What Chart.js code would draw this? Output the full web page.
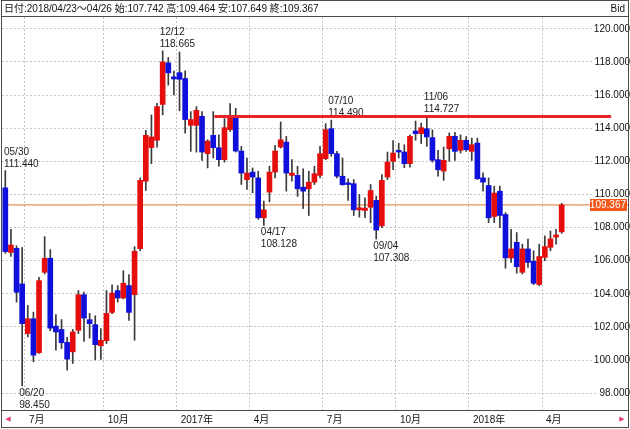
<!DOCTYPE html>
<html>
<head>
<meta charset="utf-8">
<script src="https://cdn.jsdelivr.net/npm/chart.js@4.4.1/dist/chart.umd.min.js"></script>
<style>
  html, body { margin: 0; padding: 0; background: #fff; }
  #wrap { width: 630px; height: 429px; }
</style>
</head>
<body>
<div id="wrap"><canvas id="myChart" width="630" height="429"></canvas></div>
<script>
// weekly candles, USD/JPY bid
const weeks = [
  "2016/05/30","2016/06/06","2016/06/13","2016/06/20","2016/06/27","2016/07/04","2016/07/11","2016/07/18","2016/07/25","2016/08/01",
  "2016/08/08","2016/08/15","2016/08/22","2016/08/29","2016/09/05","2016/09/12","2016/09/19","2016/09/26","2016/10/03","2016/10/10",
  "2016/10/17","2016/10/24","2016/10/31","2016/11/07","2016/11/14","2016/11/21","2016/11/28","2016/12/05","2016/12/12","2016/12/19",
  "2016/12/26","2017/01/02","2017/01/09","2017/01/16","2017/01/23","2017/01/30","2017/02/06","2017/02/13","2017/02/20","2017/02/27",
  "2017/03/06","2017/03/13","2017/03/20","2017/03/27","2017/04/03","2017/04/10","2017/04/17","2017/04/24","2017/05/01","2017/05/08",
  "2017/05/15","2017/05/22","2017/05/29","2017/06/05","2017/06/12","2017/06/19","2017/06/26","2017/07/03","2017/07/10","2017/07/17",
  "2017/07/24","2017/07/31","2017/08/07","2017/08/14","2017/08/21","2017/08/28","2017/09/04","2017/09/11","2017/09/18","2017/09/25",
  "2017/10/02","2017/10/09","2017/10/16","2017/10/23","2017/10/30","2017/11/06","2017/11/13","2017/11/20","2017/11/27","2017/12/04",
  "2017/12/11","2017/12/18","2017/12/25","2018/01/01","2018/01/08","2018/01/15","2018/01/22","2018/01/29","2018/02/05","2018/02/12",
  "2018/02/19","2018/02/26","2018/03/05","2018/03/12","2018/03/19","2018/03/26","2018/04/02","2018/04/09","2018/04/16","2018/04/23"
];
const open = [
  110.40,106.50,106.75,104.60,101.60,102.50,100.45,105.30,106.15,102.05,
  101.85,101.07,100.50,101.80,103.95,102.44,102.14,100.87,101.17,102.88,
  104.20,103.75,104.50,103.95,106.73,110.80,112.83,113.27,115.43,117.94,
  117.10,117.35,117.00,114.17,114.17,114.72,112.46,113.57,112.82,112.10,
  113.91,114.62,112.62,110.89,111.35,111.00,108.59,110.14,111.35,112.86,
  113.16,111.15,111.15,110.44,110.34,110.74,111.15,112.16,113.97,112.46,
  111.10,110.70,110.65,109.07,109.03,109.23,109.64,108.10,111.05,112.00,
  112.66,112.56,111.86,113.83,113.67,113.97,113.43,112.10,111.41,112.76,
  113.51,112.66,113.27,112.60,113.10,111.00,110.54,108.67,110.20,108.79,
  106.17,107.11,105.30,106.71,105.97,104.56,106.20,106.81,107.42,107.742
];
const high = [
  111.44,107.90,106.90,106.80,103.30,102.90,105.00,107.45,106.67,102.75,
  102.45,101.37,101.85,104.20,104.10,102.82,102.68,101.90,104.20,104.55,
  104.50,105.40,105.16,106.85,111.00,113.87,114.80,115.50,118.665,118.27,
  117.45,118.60,117.46,115.00,115.30,115.00,113.30,115.00,113.60,114.58,
  115.49,115.20,112.90,112.20,111.60,111.40,109.60,111.70,112.96,114.37,
  113.50,112.10,111.70,111.55,111.40,111.70,112.90,114.27,114.49,112.60,
  112.20,110.95,110.90,110.00,109.80,110.60,109.90,111.20,112.56,113.25,
  113.10,113.00,113.60,114.43,114.30,114.727,113.90,112.66,112.86,113.71,
  113.75,113.60,113.50,113.40,113.40,111.30,111.00,110.50,110.50,108.90,
  107.90,107.70,107.00,107.30,106.60,107.00,107.50,107.80,107.90,109.464
];
const low = [
  106.45,106.26,103.50,98.45,101.40,99.90,100.40,105.20,101.77,100.60,
  100.70,99.40,99.80,101.60,101.13,101.33,100.02,100.05,101.00,102.80,
  103.50,103.70,102.40,101.20,106.60,110.24,111.86,112.85,114.80,116.60,
  116.00,115.05,113.70,112.60,112.55,112.06,111.60,112.20,111.70,111.95,
  113.80,112.56,110.60,110.30,110.10,108.50,108.128,109.55,111.00,112.80,
  110.20,110.80,109.88,109.15,108.73,110.60,111.00,112.10,112.30,111.00,
  110.55,109.64,108.73,108.63,108.60,108.30,107.308,108.00,110.90,111.50,
  112.20,111.62,111.65,113.27,113.07,112.90,111.95,111.10,110.85,112.00,
  112.05,112.50,112.60,112.05,110.90,110.20,108.30,108.30,108.00,105.55,
  105.90,105.25,105.20,105.60,104.56,104.50,106.00,106.60,107.00,107.649
];
const close = [
  106.55,106.95,104.10,102.20,102.50,100.30,104.80,106.15,101.93,101.70,
  101.05,100.06,101.70,103.95,102.54,102.20,100.93,101.20,102.82,104.05,
  103.75,104.64,102.88,106.57,110.85,113.57,113.47,115.30,118.00,117.34,
  116.97,116.95,114.52,114.52,115.08,112.56,113.22,112.82,112.10,114.03,
  114.68,112.62,111.29,111.29,111.05,108.59,109.07,111.35,112.62,113.30,
  111.29,111.29,110.34,110.20,110.74,111.25,112.46,113.91,112.46,111.10,
  110.59,110.60,109.07,109.20,109.17,110.24,107.85,110.85,111.96,112.50,
  112.56,111.86,113.51,113.67,114.03,113.47,112.06,111.49,112.06,113.51,
  112.60,113.27,112.70,113.00,110.95,110.74,108.59,110.08,108.73,106.17,
  106.71,105.64,106.71,105.90,104.64,106.25,106.85,107.32,107.56,109.367
];

// marked highs / lows
const markIndex = [0, 3, 28, 46, 58, 66, 75];
const markSide = ["high", "low", "high", "low", "high", "low", "high"];

// resistance line (week index from, to, price)
const resistX = [37.2, 107.8];
const resistY = [114.7, 114.7];

const monthTicks = [3.5, 17.5, 30.5, 43.5, 56.5, 69.5, 82.5, 95.5];
const monthLabels = ["7月", "10月", "2017年", "4月", "7月", "10月", "2018年", "4月"];
const priceTicks = [98, 100, 102, 104, 106, 108, 110, 112, 114, 116, 118, 120];

const lastClose = close[close.length - 1];
const header = "日付:2018/04/23〜04/26 始:107.742 高:109.464 安:107.649 終:109.367";

const FONT = '10px "Liberation Sans", "Noto Sans CJK JP", sans-serif';
const xMin = -0.59, xMax = 110.8;

const wickData = weeks.map((w, i) => ({ x: i, y: [low[i], high[i]] }));
const bodyData = weeks.map((w, i) => ({ x: i, y: [open[i], close[i]] }));
const bodyColors = weeks.map((w, i) => (close[i] >= open[i] ? "#e60d0d" : "#1010dc"));

const extras = {
  id: "extras",
  beforeDraw(chart) {
    const ctx = chart.ctx;
    ctx.save();
    ctx.fillStyle = "#fff";
    ctx.fillRect(0, 0, chart.width, chart.height);
    ctx.restore();
  },
  beforeDatasetsDraw(chart) {
    const ctx = chart.ctx;
    const xs = chart.scales.x, ys = chart.scales.y;
    ctx.save();
    ctx.font = FONT;
    ctx.fillStyle = "#222";
    ctx.textAlign = "left";
    ctx.textBaseline = "middle";
    markIndex.forEach((idx, k) => {
      const isHigh = markSide[k] === "high";
      const v = isHigh ? high[idx] : low[idx];
      const px = Math.max(4, xs.getPixelForValue(idx) - 3);
      const py = ys.getPixelForValue(v);
      const l1 = isHigh ? py - 18.5 : py + 7;
      ctx.fillText(weeks[idx].slice(5), px, l1);
      ctx.fillText(v.toFixed(3), px, l1 + 12);
    });
    ctx.restore();
  },
  afterDatasetsDraw(chart) {
    const ctx = chart.ctx;
    const ys = chart.scales.y;
    const py = Math.round(ys.getPixelForValue(lastClose));
    ctx.save();
    ctx.fillStyle = "#f0581c";
    ctx.fillRect(590, py - 6, 37, 12);
    ctx.font = FONT;
    ctx.fillStyle = "#fff";
    ctx.textAlign = "right";
    ctx.textBaseline = "middle";
    ctx.fillText(lastClose.toFixed(3), 626, py);
    ctx.restore();
  },
  afterDraw(chart) {
    const ctx = chart.ctx;
    const a = chart.chartArea;
    ctx.save();
    ctx.font = FONT;
    ctx.fillStyle = "#111";
    ctx.textBaseline = "middle";
    ctx.textAlign = "left";
    ctx.fillText(header, 4, 9);
    ctx.textAlign = "right";
    ctx.fillText("Bid", 625, 9);
    // pink scroll arrows
    ctx.fillStyle = "#e0407a";
    ctx.font = '7px "DejaVu Sans", sans-serif';
    ctx.textAlign = "center";
    ctx.fillText("◀", 8, 419);
    ctx.fillText("▶", 622, 419);
    // frame
    ctx.strokeStyle = "#4a4a4a";
    ctx.lineWidth = 1;
    ctx.strokeRect(1.5, 0.5, 627, 427);
    ctx.beginPath();
    ctx.moveTo(1.5, 16.5); ctx.lineTo(628.5, 16.5);
    ctx.moveTo(1.5, Math.round(a.bottom) + 0.5); ctx.lineTo(628.5, Math.round(a.bottom) + 0.5);
    ctx.stroke();
    ctx.restore();
  }
};

const ctx = document.getElementById("myChart").getContext("2d");
const chart = new Chart(ctx, {
  type: "bar",
  data: {
    datasets: [
      {
        type: "line",
        label: "last",
        data: [{ x: xMin, y: lastClose }, { x: xMax, y: lastClose }],
        borderColor: "#e07424",
        borderWidth: 1,
        pointRadius: 0,
        order: 4,
      },
      {
        label: "wick",
        data: wickData,
        backgroundColor: "#3a3a3a",
        barThickness: 1,
        grouped: false,
        order: 3,
      },
      {
        label: "body",
        data: bodyData,
        backgroundColor: bodyColors,
        barThickness: 5,
        minBarLength: 1,
        grouped: false,
        order: 2,
      },
      {
        type: "line",
        label: "resist",
        data: resistX.map((x, i) => ({ x: x, y: resistY[i] })),
        borderColor: "#e8232a",
        borderWidth: 3,
        pointRadius: 0,
        order: 1,
      },
    ],
  },
  options: {
    responsive: false,
    animation: false,
    layout: { padding: { left: 2, right: 2, top: 17, bottom: 0 } },
    plugins: { legend: { display: false }, tooltip: { enabled: false } },
    scales: {
      x: {
        type: "linear",
        offset: false,
        min: xMin,
        max: xMax,
        afterBuildTicks: (s) => { s.ticks = monthTicks.map((v) => ({ value: v })); },
        afterFit: (s) => { s.paddingLeft = 0; s.paddingRight = 0; s.height = 19; },
        ticks: {
          callback: (v, i) => monthLabels[i],
          autoSkip: false,
          maxRotation: 0,
          align: "start",
          labelOffset: 4,
          padding: 4,
          color: "#111",
          font: { family: '"Liberation Sans", "Noto Sans CJK JP", sans-serif', size: 10 },
        },
        grid: { color: "#c4c4c4", drawTicks: false, offset: false },
        border: { display: false, dash: [2, 2] },
      },
      y: {
        type: "linear",
        position: "right",
        min: 96.99,
        max: 120.71,
        afterBuildTicks: (s) => { s.ticks = priceTicks.map((v) => ({ value: v })); },
        afterFit: (s) => { s.width = 0; },
        ticks: {
          mirror: true,
          padding: 2,
          callback: (v) => v.toFixed(3),
          color: "#111",
          font: { family: '"Liberation Sans", sans-serif', size: 10 },
          showLabelBackdrop: true,
          backdropColor: "#fff",
          backdropPadding: { x: 1, y: 0 },
        },
        grid: { color: "#c4c4c4", drawTicks: false },
        border: { display: false, dash: [2, 2] },
      },
    },
  },
  plugins: [extras],
});
</script>
</body>
</html>
